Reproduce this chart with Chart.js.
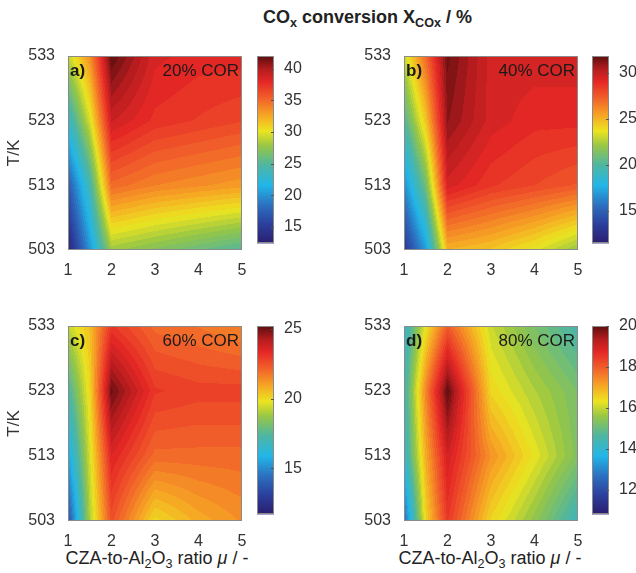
<!DOCTYPE html>
<html>
<head>
<meta charset="utf-8">
<script src="https://cdn.jsdelivr.net/npm/chart.js@4.4.0/dist/chart.umd.min.js"></script>
<style>
body { margin: 0; background: #fff; width: 636px; height: 573px; position: relative; overflow: hidden; font-family: "Liberation Sans", Arial, sans-serif; }
canvas { position: absolute; }
.t { position: absolute; color: #222; white-space: nowrap; }
.t sub { font-size: 70%; vertical-align: -0.35em; line-height: 0; }
</style>
</head>
<body>
<div class="t" style="left:263px;top:7px;font-size:18px;font-weight:bold;">CO<sub>x</sub> conversion X<sub>COx</sub> / %</div>
<div class="t" style="left:157px;top:548px;font-size:18px;transform:translateX(-50%);">CZA-to-Al<sub>2</sub>O<sub>3</sub> ratio <i>&mu;</i> / -</div>
<div class="t" style="left:490px;top:548px;font-size:18px;transform:translateX(-50%);">CZA-to-Al<sub>2</sub>O<sub>3</sub> ratio <i>&mu;</i> / -</div>

<canvas id="pa" width="250" height="235" style="left:0;top:40px"></canvas>
<canvas id="ca" width="60" height="215" style="left:250px;top:40px"></canvas>
<canvas id="pb" width="250" height="235" style="left:336px;top:40px"></canvas>
<canvas id="cb" width="51" height="215" style="left:585px;top:40px"></canvas>
<canvas id="pc" width="250" height="236" style="left:0;top:310px"></canvas>
<canvas id="cc" width="60" height="216" style="left:250px;top:310px"></canvas>
<canvas id="pd" width="250" height="236" style="left:336px;top:310px"></canvas>
<canvas id="cd" width="51" height="216" style="left:585px;top:310px"></canvas>

<script>
// grid of the measurements
const ratios = [1, 1.5, 2, 3, 4, 5];
const temps = [503, 513, 523, 533];
const xTicks = [1, 2, 3, 4, 5];
const yTicks = [503, 513, 523, 533];

const panelTags = ['a)', 'b)', 'c)', 'd)'];
const corLabels = ['20% COR', '40% COR', '60% COR', '80% COR'];

// COx conversion in %, one row per temperature (503 -> 533), one column per ratio
const conv20 = [
    [13, 20, 28, 27, 26, 25],
    [17, 24, 35, 34, 33.5, 33],
    [23, 29.5, 39, 37.5, 37, 36.5],
    [29, 33.5, 42, 38.5, 38, 38]
];
const conv40 = [
    [13, 17, 25, 24.5, 23.5, 22],
    [16.5, 21, 29.5, 28.5, 28, 27.5],
    [20, 24.5, 31, 29.5, 29, 29],
    [23, 27, 31.5, 29.5, 29.5, 29.5]
];
const conv60 = [
    [13.5, 19, 22.5, 20, 20.8, 21.3],
    [15.5, 19.5, 23.5, 22, 22, 22],
    [17.2, 20, 25, 23, 22.8, 22.8],
    [19.3, 20.5, 23, 22, 21.8, 21.5]
];
const conv80 = [
    [12.5, 16.5, 18.5, 16.5, 15.5, 14.3],
    [14, 17, 19, 17.3, 16.3, 15.3],
    [14.3, 17.5, 20, 16.5, 15.8, 15.2],
    [14, 16.3, 18, 16, 15.2, 14.5]
];

// colour bar limits and ticks
const cbarMin = [12.4, 11.5, 11.7, 10.8];
const cbarMax = [42, 31.8, 25.2, 20];
const cbarTicks = [
    [15, 20, 25, 30, 35, 40],
    [15, 20, 25, 30],
    [15, 20, 25],
    [12, 14, 16, 18, 20]
];

const grids = [conv20, conv40, conv60, conv80];

const stops = [
    [0.00, [42, 30, 110]],
    [0.10, [44, 62, 155]],
    [0.20, [44, 110, 190]],
    [0.31, [34, 182, 232]],
    [0.42, [80, 182, 160]],
    [0.52, [150, 198, 70]],
    [0.60, [236, 228, 32]],
    [0.68, [246, 168, 36]],
    [0.77, [242, 100, 42]],
    [0.86, [230, 40, 38]],
    [0.93, [180, 28, 30]],
    [1.00, [92, 14, 14]]
];

function cmap(t) {
    t = Math.max(0, Math.min(1, t));
    for (let k = 1; k < stops.length; k++) {
        if (t <= stops[k][0]) {
            const [t0, c0] = stops[k - 1], [t1, c1] = stops[k];
            const f = (t - t0) / (t1 - t0);
            return c0.map((c, i) => c + (c1[i] - c) * f);
        }
    }
    return stops[stops.length - 1][1];
}

function findCell(arr, v) {
    for (let i = 0; i < arr.length - 2; i++) if (v <= arr[i + 1]) return i;
    return arr.length - 2;
}

function sample(grid, xv, yv) {
    const i = findCell(ratios, xv), j = findCell(temps, yv);
    const fx = (xv - ratios[i]) / (ratios[i + 1] - ratios[i]);
    const fy = (yv - temps[j]) / (temps[j + 1] - temps[j]);
    const a = grid[j][i], b = grid[j][i + 1], c = grid[j + 1][i], d = grid[j + 1][i + 1];
    return (a * (1 - fx) + b * fx) * (1 - fy) + (c * (1 - fx) + d * fx) * fy;
}

const fieldPlugin = {
    id: 'field',
    beforeDatasetsDraw(chart, args, opts) {
        if (!opts.grid) return;
        const { ctx, chartArea: a, scales: { x, y } } = chart;
        const L = Math.round(a.left), T = Math.round(a.top);
        const w = Math.round(a.right) - L, h = Math.round(a.bottom) - T;
        const img = ctx.createImageData(w, h);
        const step = (opts.max - opts.min) / 48;
        for (let j = 0; j < h; j++) {
            const tv = y.getValueForPixel(T + j + 0.5);
            for (let i = 0; i < w; i++) {
                const rv = x.getValueForPixel(L + i + 0.5);
                let v = sample(opts.grid, rv, tv);
                v = opts.min + (Math.floor((v - opts.min) / step) + 0.5) * step;
                const c = cmap((v - opts.min) / (opts.max - opts.min));
                const p = (j * w + i) * 4;
                img.data[p] = c[0]; img.data[p + 1] = c[1]; img.data[p + 2] = c[2]; img.data[p + 3] = 255;
            }
        }
        ctx.putImageData(img, L, T);
    },
    afterDraw(chart, args, opts) {
        if (!opts.grid) return;
        const { ctx, chartArea: a } = chart;
        ctx.save();
        ctx.strokeStyle = '#8a8a8a';
        ctx.lineWidth = 1;
        ctx.strokeRect(Math.round(a.left) + 0.5, Math.round(a.top) + 0.5, Math.round(a.right - a.left) - 1, Math.round(a.bottom - a.top) - 1);
        ctx.fillStyle = '#1a1a1a';
        ctx.textBaseline = 'alphabetic';
        ctx.font = 'bold 17px "Liberation Sans", Arial, sans-serif';
        ctx.textAlign = 'left';
        ctx.fillText(opts.tag, a.left + 2, a.top + 20);
        ctx.font = '17px "Liberation Sans", Arial, sans-serif';
        ctx.textAlign = 'right';
        ctx.fillText(opts.cor, a.right - 3, a.top + 20);
        ctx.restore();
    }
};

const cbarPlugin = {
    id: 'cbar',
    beforeDatasetsDraw(chart, args, opts) {
        if (!opts.on) return;
        const { ctx, chartArea: a, scales: { y } } = chart;
        const g = ctx.createLinearGradient(0, y.getPixelForValue(opts.min), 0, y.getPixelForValue(opts.max));
        stops.forEach(s => g.addColorStop(s[0], 'rgb(' + s[1].join(',') + ')'));
        ctx.save();
        ctx.fillStyle = g;
        ctx.fillRect(a.left, a.top, a.right - a.left, a.bottom - a.top);
        ctx.strokeStyle = '#8a8a8a';
        ctx.lineWidth = 1;
        ctx.strokeRect(Math.round(a.left) + 0.5, Math.round(a.top) + 0.5, Math.round(a.right - a.left) - 1, Math.round(a.bottom - a.top) - 1);
        ctx.strokeStyle = '#555';
        opts.ticks.forEach(v => {
            const py = Math.round(y.getPixelForValue(v)) + 0.5;
            ctx.beginPath();
            ctx.moveTo(a.right - 3, py);
            ctx.lineTo(a.right, py);
            ctx.stroke();
        });
        ctx.restore();
    }
};

const tickFont = { family: '"Liberation Sans", Arial, sans-serif', size: 16 };

function makePanel(id, k, showTitle) {
    new Chart(document.getElementById(id), {
        type: 'scatter',
        data: { datasets: [] },
        options: {
            responsive: false,
            animation: false,
            layout: { padding: { top: 16, right: 8, left: 0, bottom: 0 }, autoPadding: false },
            plugins: {
                legend: { display: false },
                tooltip: { enabled: false },
                field: { grid: grids[k], min: cbarMin[k], max: cbarMax[k], tag: panelTags[k], cor: corLabels[k] }
            },
            scales: {
                x: {
                    type: 'linear', min: 1, max: 5,
                    grid: { display: false }, border: { display: false },
                    afterBuildTicks: s => { s.ticks = xTicks.map(v => ({ value: v })); },
                    afterFit: s => { s.height = 25; },
                    ticks: { color: '#333', font: tickFont, padding: 3, maxRotation: 0 }
                },
                y: {
                    type: 'linear', min: 503, max: 533,
                    grid: { display: false }, border: { display: false },
                    afterBuildTicks: s => { s.ticks = yTicks.map(v => ({ value: v })); },
                    afterFit: s => { s.width = 68; },
                    ticks: { color: '#333', font: tickFont, padding: 5 },
                    title: { display: showTitle, text: 'T/K', color: '#333', font: { family: tickFont.family, size: 17 }, padding: { top: 4, bottom: 0 } }
                }
            }
        },
        plugins: [fieldPlugin]
    });
}

function makeBar(id, k) {
    new Chart(document.getElementById(id), {
        type: 'scatter',
        data: { datasets: [] },
        options: {
            responsive: false,
            animation: false,
            layout: { padding: { top: 16, right: 0, left: 7, bottom: 5 }, autoPadding: false },
            plugins: {
                legend: { display: false },
                tooltip: { enabled: false },
                cbar: { on: true, min: cbarMin[k], max: cbarMax[k], ticks: cbarTicks[k] }
            },
            scales: {
                x: { type: 'linear', display: false },
                y: {
                    type: 'linear', position: 'right', min: cbarMin[k], max: cbarMax[k],
                    grid: { display: false }, border: { display: false },
                    afterBuildTicks: s => { s.ticks = cbarTicks[k].map(v => ({ value: v })); },
                    afterFit: s => { s.width = s.chart.width - 24; },
                    ticks: { color: '#333', font: tickFont, padding: 2 }
                }
            }
        },
        plugins: [cbarPlugin]
    });
}

makePanel('pa', 0, true);
makePanel('pb', 1, false);
makePanel('pc', 2, true);
makePanel('pd', 3, false);
makeBar('ca', 0);
makeBar('cb', 1);
makeBar('cc', 2);
makeBar('cd', 3);
</script>
</body>
</html>
